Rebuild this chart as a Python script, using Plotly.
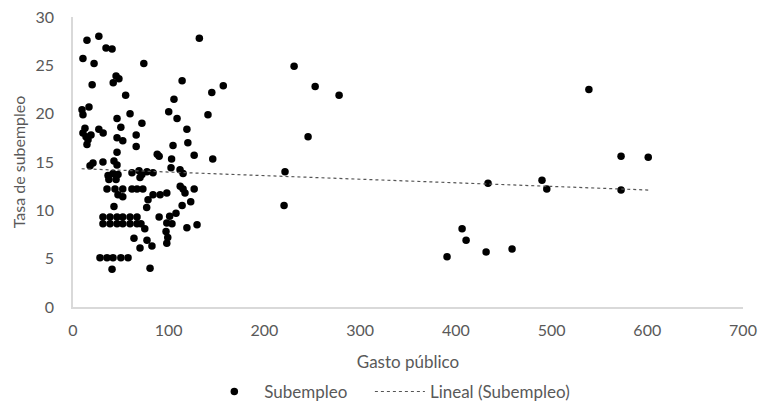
import plotly.graph_objects as go

gasto = [14.6, 27, 34.5, 40.8, 10.4, 22, 74, 132, 45, 48, 42, 20, 114, 55, 105.5, 145, 157,
         9.4, 10.4, 16.7, 59.6, 100, 46, 108.7, 141, 72, 50,
         12.5, 10.4, 13.6, 18.8, 15.7, 14.6, 27, 31.5, 119, 46, 52, 66, 104.5, 120, 66, 46,
         88, 90, 126.6, 146, 103, 17.8, 20.9, 31.3, 42.8, 46, 36.6, 41.8, 47, 37.5, 45,
         61.6, 69, 72, 77.3, 83.6, 70, 102.4, 111.8, 115,
         35.5, 43.9, 52, 61.6, 66.9, 73, 47, 52, 112, 115, 117, 126.6, 83.6, 91, 98, 78.4,
         123, 114, 77, 42.8,
         31.3, 38.7, 46, 52, 59.6, 66.9,
         31.3, 38.7, 46, 52, 59.6, 66.9, 71,
         90, 101, 107.6, 98, 103.4, 75, 119, 129.6, 97.2, 99, 98, 63.7, 70, 77.3, 82.5,
         28.2, 35.5, 41.8, 50, 57.5, 40.8, 80.5,
         231, 253, 278, 245.6, 221.5, 220.5, 539, 572.6, 601, 433.6, 490, 495, 572.6,
         406.5, 410.7, 390.8, 431.6, 458.7]

subempleo = [27.6, 28.0, 26.8, 26.7, 25.7, 25.2, 25.2, 27.8, 23.9, 23.6, 23.2, 23.0, 23.4, 21.9, 21.5, 22.2, 22.9,
             20.4, 19.9, 20.7, 20.0, 20.2, 19.5, 19.5, 19.9, 19.0, 18.6,
             18.5, 18.0, 17.6, 17.8, 17.3, 16.8, 18.4, 18.0, 18.4, 17.5, 17.2, 17.8, 16.7, 17.0, 16.6, 16.0,
             15.8, 15.6, 15.7, 15.3, 15.3, 14.6, 14.9, 15.0, 15.1, 14.7, 13.6, 13.8, 13.7, 13.2, 13.2,
             13.9, 14.1, 13.7, 14.0, 13.9, 13.4, 14.4, 14.2, 13.8,
             12.2, 12.2, 12.2, 12.2, 12.2, 12.2, 11.6, 11.4, 12.5, 12.2, 11.8, 12.2, 11.6, 11.6, 11.8, 11.1,
             10.9, 10.5, 10.3, 10.4,
             9.3, 9.3, 9.3, 9.3, 9.3, 9.3,
             8.6, 8.6, 8.6, 8.6, 8.6, 8.6, 8.6,
             9.3, 9.4, 9.7, 8.7, 8.6, 8.1, 8.2, 8.5, 7.8, 7.2, 6.6, 7.1, 6.1, 6.9, 6.3,
             5.1, 5.1, 5.1, 5.1, 5.1, 3.9, 4.0,
             24.9, 22.8, 21.9, 17.6, 14.0, 10.5, 22.5, 15.6, 15.5, 12.8, 13.1, 12.2, 12.1,
             8.1, 6.9, 5.2, 5.7, 6.0]

tendencia_x = [9, 601]
tendencia_y = [14.3, 12.1]

x_ticks = [0, 100, 200, 300, 400, 500, 600, 700]
y_ticks = [0, 5, 10, 15, 20, 25, 30]

gray = "#595959"
font_family = "Lato, 'Open Sans', sans-serif"
pad = "\u00a0" * 4

fig = go.Figure()
fig.add_trace(go.Scatter(
    x=gasto, y=subempleo, mode="markers", name="Subempleo" + pad,
    marker=dict(color="black", size=7.5, line=dict(width=0)),
))
fig.add_trace(go.Scatter(
    x=tendencia_x, y=tendencia_y, mode="lines", name="Lineal (Subempleo)",
    line=dict(color="#555555", width=1.2, dash="dot"),
))

fig.update_layout(
    width=763, height=405,
    margin=dict(l=73, r=20, t=17, b=98, autoexpand=False),
    paper_bgcolor="white", plot_bgcolor="white",
    font=dict(family=font_family, size=16, color=gray),
    showlegend=True,
    legend=dict(orientation="h", x=0.196, xanchor="left",
                y=-0.293, yanchor="middle",
                font=dict(size=17, color=gray), itemwidth=50,
                bgcolor="rgba(0,0,0,0)"),
    xaxis=dict(range=[0, 700], tickvals=x_ticks, showgrid=False, zeroline=False,
               showline=True, linecolor="#d9d9d9", linewidth=1.5, ticks="",
               ticklabelstandoff=8, automargin=False,
               title=dict(text="Gasto público", standoff=18, font=dict(size=17, color=gray))),
    yaxis=dict(range=[0, 30], tickvals=y_ticks, showgrid=False, zeroline=False,
               showline=True, linecolor="#d9d9d9", linewidth=1.5, ticks="",
               ticklabelstandoff=14, automargin=False,
               title=dict(text="Tasa de subempleo", standoff=6, font=dict(size=16, color=gray))),
)

fig.write_html("out.html", config={"displayModeBar": False},
               post_script="document.body.style.margin='0';document.body.style.padding='0';")
